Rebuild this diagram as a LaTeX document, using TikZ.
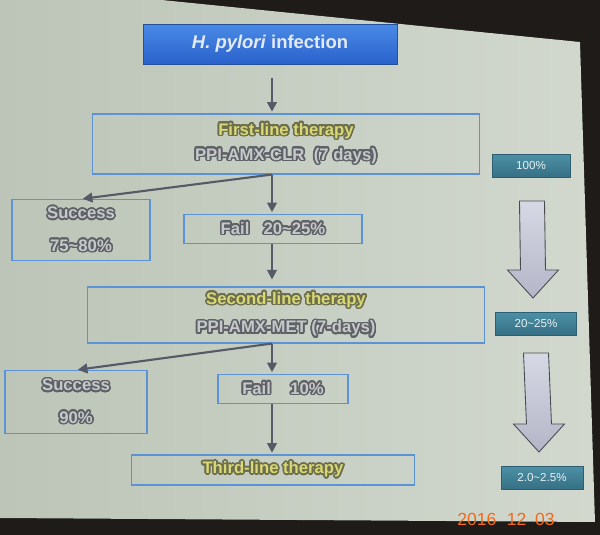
\documentclass[tikz,border=0pt]{standalone}
\usepackage{fontspec}
\setmainfont{Liberation Sans}
\usepackage{contour}
\contourlength{0.9pt}
\contournumber{24}
\usetikzlibrary{calc,arrows.meta}

\definecolor{frame}{HTML}{1E1B18}
\definecolor{slideL}{HTML}{BCC5B8}
\definecolor{slideR}{HTML}{D2D8CE}
\definecolor{boxline}{HTML}{5A94D6}
\definecolor{titletop}{HTML}{4A8AE6}
\definecolor{titlebot}{HTML}{2A62CC}
\definecolor{titleedge}{HTML}{24509A}
\definecolor{titletext}{HTML}{E4EAF4}
\definecolor{tealtop}{HTML}{4D90A5}
\definecolor{tealbot}{HTML}{356F84}
\definecolor{tealedge}{HTML}{2D5F70}
\definecolor{ratetext}{HTML}{E8F0F0}
\definecolor{arrowgray}{HTML}{555A66}
\definecolor{bigtop}{HTML}{D6D8E4}
\definecolor{bigbot}{HTML}{B4B6C8}
\definecolor{bigedge}{HTML}{4A4A52}
\definecolor{txtfill}{HTML}{C6C9C8}
\definecolor{txtedge}{HTML}{5E6268}
\definecolor{ylwfill}{HTML}{D8D874}
\definecolor{ylwedge}{HTML}{6C6E4E}
\definecolor{datecol}{HTML}{F26A1B}

\def\gry#1{{\color{txtfill}\contour{txtedge}{#1}}}
\def\ylw#1{{\color{ylwfill}\contour{ylwedge}{#1}}}
\def\droparrow[#1](#2)(#3){\draw[#1] ($(#2)+(-12.5,0)$) -- ($(#2)+(12.5,0)$) -- ($(#3)+(12.5,-28)$) -- ($(#3)+(25.5,-28)$) -- (#3) -- ($(#3)+(-25.5,-28)$) -- ($(#3)+(-12.5,-28)$) -- cycle;}

\tikzset{
	flowbox/.style={draw=boxline, line width=0.6pt, inner sep=0pt, align=center, font=\bfseries\fontsize{9.5}{11.4}\selectfont},
	titlebox/.style={draw=titleedge, top color=titletop, bottom color=titlebot, inner sep=0pt, text=titletext, font=\bfseries\fontsize{10.5}{12.6}\selectfont},
	ratebox/.style={draw=tealedge, top color=tealtop, bottom color=tealbot, inner sep=0pt, minimum height=0.46cm, text=ratetext, font=\fontsize{6.6}{8}\selectfont},
	flowarrow/.style={draw=arrowgray, line width=1.2pt, shorten >=1pt, -{Triangle[length=5.5pt,width=5.5pt]}},
	bigarrow/.style={draw=bigedge, line width=0.5pt, top color=bigtop, bottom color=bigbot},
}

\begin{document}
\begin{tikzpicture}[x=0.02cm, y=-0.02cm]
			%%%%% START %%%%%
			\useasboundingbox (0,0) rectangle (600,535);
			\fill[frame] (0,0) rectangle (600,535);
			\fill[left color=slideL, right color=slideR] (0,0) -- (162,0) -- (580,42) -- (595,522) -- (0,518) -- cycle;
			
			\coordinate (axis) at (272,0);
			
			\node[titlebox, minimum width=5.08cm, minimum height=0.8cm] (infect) at (270,44) {\textit{H. pylori} infection};
			
			\node[flowbox, minimum width=7.74cm, minimum height=1.2cm] (first) at (286,144) {\ylw{First-line therapy}\\[2.8pt]\gry{PPI-AMX-CLR\ \ (7 days)}};
			\node[flowbox, minimum width=2.76cm, minimum height=1.22cm] (succ1) at (81,230) {\gry{Success}\\[7.3pt]\gry{75\textasciitilde80\%}};
			\node[flowbox, minimum width=3.56cm, minimum height=0.58cm] (fail1) at (273,229) {\gry{Fail\hspace{8pt}20\textasciitilde25\%}};
			
			\node[flowbox, minimum width=7.96cm, minimum height=1.12cm] (second) at (286,315) {\ylw{Second-line therapy}\\[5pt]\gry{PPI-AMX-MET (7-days)}};
			\node[flowbox, minimum width=2.84cm, minimum height=1.26cm] (succ2) at (76,402) {\gry{Success}\\[7pt]\gry{90\%}};
			\node[flowbox, minimum width=2.6cm, minimum height=0.58cm] (fail2) at (283,389) {\gry{Fail\hspace{11pt}10\%}};
			
			\node[flowbox, minimum width=5.66cm, minimum height=0.6cm] (third) at (273,470) {\ylw{Third-line therapy}};
			
			\draw[flowarrow, shorten <=0.28cm] (infect.south -| axis) -- (first.north -| axis);
			\draw[flowarrow] (first.south -| axis) -- (succ1.north);
			\draw[flowarrow] (first.south -| axis) -- (fail1.north -| axis);
			\draw[flowarrow, shorten >=0.14cm] (fail1.south -| axis) -- (second.north -| axis);
			\draw[flowarrow] (second.south -| axis) -- (succ2.north);
			\draw[flowarrow] (second.south -| axis) -- (fail2.north -| axis);
			\draw[flowarrow] (fail2.south -| axis) -- (third.north -| axis);
			
			\node[ratebox, minimum width=1.56cm] (rate100) at (531,166) {100\%};
			\node[ratebox, minimum width=1.62cm] (rate20) at (536,324) {20\textasciitilde25\%};
			\node[ratebox, minimum width=1.64cm] (rate2) at (542,478) {2.0\textasciitilde2.5\%};
			
			\coordinate (drop1top) at (532,201);
			\coordinate (drop1tip) at (533,298);
			\coordinate (drop2top) at (536,353);
			\coordinate (drop2tip) at (539,452);
			\droparrow[bigarrow](drop1top)(drop1tip)
			\droparrow[bigarrow](drop2top)(drop2tip)
			
			\node[text=datecol, font=\fontsize{10}{12}\selectfont] (stamp) at (506,519) {2016\hspace{6pt}12\hspace{5pt}03};
			%%%%% END %%%%%
\end{tikzpicture}
\end{document}
